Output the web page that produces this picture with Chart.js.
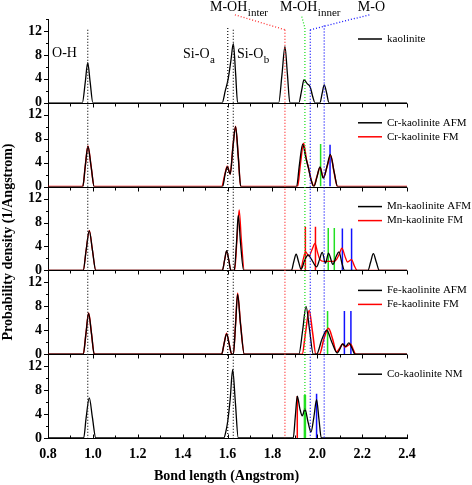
<!DOCTYPE html>
<html>
<head>
<meta charset="utf-8">
<script src="https://cdn.jsdelivr.net/npm/chart.js@4.4.0/dist/chart.umd.min.js"></script>
<style>
  html, body { margin: 0; padding: 0; background: #fff; }
</style>
</head>
<body>
<canvas id="chart" width="472" height="485"></canvas>
<script>
// axis ticks
const xTickValues = [0.8, 1.0, 1.2, 1.4, 1.6, 1.8, 2.0, 2.2, 2.4];
const yTickValues = [0, 4, 8, 12];

// bond length (Angstrom), probability density (1/Angstrom)
const kaolinite = [[0.8,0],[0.953,0],[0.966,3.4],[0.977,6.7],[0.988,3.4],[1.0,0],
  [1.576,0],[1.59,2.0],[1.603,4.0],[1.615,7.0],[1.626,9.9],[1.636,5.0],[1.645,0],
  [1.828,0],[1.843,4.8],[1.856,9.4],[1.867,4.8],[1.878,0],
  [1.918,0],[1.93,2.0],[1.941,3.85],[1.955,3.2],[1.969,2.6],[1.98,1.0],[1.99,0],
  [2.012,0],[2.022,1.6],[2.031,3.0],[2.042,1.6],[2.052,0],[2.4,0]];

const crAFM = [[0.8,0],[0.955,0],[0.966,3.4],[0.978,6.7],[0.992,3.4],[1.006,0],
  [1.578,0],[1.59,2.2],[1.599,3.3],[1.612,2.1],[1.624,6.5],[1.636,10.0],[1.648,5.0],[1.659,0],
  [1.908,0],[1.92,3.5],[1.935,7.1],[1.948,5.0],[1.96,3.2],[1.972,1.2],[1.985,0],[1.998,1.5],
  [2.012,3.3],[2.027,1.4],[2.045,3.6],[2.058,5.4],[2.075,2.5],[2.091,0],[2.4,0]];
const crFM = [[0.8,0],[0.955,0],[0.966,3.4],[0.978,6.8],[0.992,3.4],[1.006,0],
  [1.574,0],[1.588,2.0],[1.599,3.4],[1.612,2.1],[1.624,6.6],[1.636,10.1],[1.648,5.0],[1.659,0],
  [1.912,0],[1.925,3.8],[1.939,7.25],[1.952,4.5],[1.962,3.0],[1.975,0.8],[1.985,0.1],[1.998,1.6],
  [2.013,3.2],[2.027,1.5],[2.045,3.5],[2.06,5.2],[2.075,2.4],[2.09,0],[2.4,0]];

const mnAFM = [[0.8,0],[0.957,0],[0.97,3.4],[0.984,6.6],[0.998,3.4],[1.013,0],
  [1.577,0],[1.587,1.7],[1.596,3.3],[1.606,1.7],[1.615,0],[1.63,0],[1.64,4.5],[1.648,9.2],[1.658,4.6],[1.672,0],
  [1.885,0],[1.895,1.4],[1.906,2.7],[1.917,1.4],[1.928,0.2],[1.945,1.8],[1.96,2.6],[1.975,1.8],[1.997,0.6],
  [2.01,1.8],[2.022,3.0],[2.037,1.2],[2.05,2.9],[2.07,1.0],[2.085,2.4],[2.097,3.1],[2.11,1.2],[2.122,0],
  [2.226,0],[2.238,1.4],[2.25,2.8],[2.263,1.4],[2.277,0],[2.4,0]];
const mnFM = [[0.8,0],[0.957,0],[0.97,3.4],[0.984,6.7],[0.998,3.4],[1.013,0],
  [1.577,0],[1.587,1.7],[1.596,3.2],[1.606,1.7],[1.615,0],[1.632,0],[1.642,5.0],[1.652,10.1],[1.662,5.0],[1.675,0],
  [1.925,0],[1.937,1.8],[1.948,3.1],[1.963,2.4],[1.978,3.6],[1.99,4.5],[2.0,3.2],[2.012,1.8],[2.03,1.5],
  [2.06,1.5],[2.08,1.6],[2.097,2.6],[2.11,3.7],[2.125,2.2],[2.135,1.4],[2.153,1.8],[2.165,0.8],[2.178,0],[2.4,0]];

const feAFM = [[0.8,0],[0.957,0],[0.969,3.4],[0.981,6.8],[0.994,3.4],[1.006,0],
  [1.574,0],[1.585,1.8],[1.596,3.4],[1.607,1.8],[1.619,0],[1.626,0],[1.636,5.0],[1.645,10.0],[1.658,5.0],[1.675,0],
  [1.918,0],[1.935,4.0],[1.95,8.0],[1.966,4.0],[1.982,0],[1.997,0],[2.02,2.4],[2.042,4.0],[2.065,2.0],
  [2.089,0.2],[2.1,0.8],[2.113,1.7],[2.127,1.3],[2.141,1.9],[2.155,1.0],[2.168,0],[2.4,0]];
const feFM = [[0.8,0],[0.957,0],[0.969,3.4],[0.981,6.9],[0.994,3.4],[1.006,0],
  [1.574,0],[1.585,1.8],[1.596,3.5],[1.607,1.8],[1.619,0],[1.626,0],[1.636,5.1],[1.645,10.2],[1.658,5.1],[1.675,0],
  [1.933,0],[1.948,3.7],[1.964,7.3],[1.979,3.7],[1.994,0],[2.01,0],[2.03,2.6],[2.05,4.35],[2.068,2.6],
  [2.086,0.4],[2.1,1.0],[2.113,1.7],[2.125,1.2],[2.149,1.7],[2.16,0.8],[2.172,0],[2.4,0]];

const coNM = [[0.8,0],[0.959,0],[0.97,3.4],[0.984,6.7],[0.998,3.4],[1.013,0],
  [1.583,0],[1.595,1.5],[1.601,2.8],[1.612,6.5],[1.623,11.4],[1.635,6.0],[1.648,0],
  [1.893,0],[1.902,3.5],[1.911,7.0],[1.922,5.0],[1.933,3.7],[1.945,4.8],[1.96,2.5],[1.972,1.0],
  [1.985,3.5],[1.997,6.4],[2.008,3.0],[2.018,0],[2.4,0]];

// bond positions marked by sticks [x, height]
const crGreen = [[2.015, 7.1]];
const crBlue = [[2.057, 7.0]];
const mnRed = [[1.947, 7.3], [1.992, 7.3]];
const mnGreen = [[2.049, 7.1], [2.076, 7.1]];
const mnBlue = [[2.112, 7.0], [2.153, 7.0]];
const feGreen = [[2.046, 7.2]];
const feBlue = [[2.121, 7.2], [2.150, 7.2]];
const coRed = [[1.911, 7.0]];
const coGreen = [[1.945, 7.2]];
const coBlue = [[1.997, 7.4]];

// reference bond lengths (dotted guides): O-H, Si-Oa, Si-Ob, M-OHinter, M-OHinner, M-O, M-O
const refBonds = [0.977, 1.601, 1.626, 1.856, 1.945, 1.969, 2.031];

const FONT = "'Liberation Serif', 'Times New Roman', serif";
const panelIds = ['p1', 'p2', 'p3', 'p4', 'p5'];

function curve(label, pts, color, panel, width) {
  return {
    label: label, yAxisID: panel, legend: true,
    data: pts.map(p => ({x: p[0], y: p[1]})),
    borderColor: color, borderWidth: width || 1.3,
    pointRadius: 0, fill: false, cubicInterpolationMode: 'monotone'
  };
}
function sticks(pts, color, panel, width) {
  return {
    yAxisID: panel, legend: false,
    data: pts.flatMap(p => [{x: p[0], y: 0}, {x: p[0], y: p[1]}, {x: p[0], y: null}]),
    borderColor: color, borderWidth: width || 1.5,
    pointRadius: 0, fill: false, tension: 0, spanGaps: false
  };
}

const RED = '#ff0000', GREEN = '#22e022', BLUE = '#1010ff';

const datasets = [
  curve('kaolinite', kaolinite, '#000', 'p1'),
  curve('Cr-kaolinite AFM', crAFM, '#000', 'p2'),
  curve('Cr-kaolinite FM', crFM, RED, 'p2', 1.5),
  sticks(crGreen, GREEN, 'p2'), sticks(crBlue, BLUE, 'p2'),
  curve('Mn-kaolinite AFM', mnAFM, '#000', 'p3'),
  curve('Mn-kaolinite FM', mnFM, RED, 'p3', 1.3),
  sticks(mnRed, RED, 'p3'), sticks(mnGreen, GREEN, 'p3'), sticks(mnBlue, BLUE, 'p3'),
  curve('Fe-kaolinite AFM', feAFM, '#000', 'p4'),
  curve('Fe-kaolinite FM', feFM, RED, 'p4', 1.5),
  sticks(feGreen, GREEN, 'p4'), sticks(feBlue, BLUE, 'p4'),
  curve('Co-kaolinite NM', coNM, '#000', 'p5'),
  sticks(coRed, RED, 'p5'), sticks(coGreen, GREEN, 'p5', 2.5), sticks(coBlue, BLUE, 'p5')
];

function panelAxis() {
  return {
    type: 'linear', position: 'left', stack: 'panels', stackWeight: 1, offset: false,
    min: 0, max: 14,
    afterBuildTicks: s => { s.ticks = yTickValues.map(v => ({value: v})); },
    afterFit: s => { s.width = 48; },
    ticks: { color: '#000', padding: 6, autoSkip: false, font: { family: FONT, size: 14, weight: 'bold' } },
    grid: { display: false, drawTicks: false },
    border: { display: true, color: '#000', width: 1 }
  };
}

// guide line styles, same order as refBonds
const refColors = ['#222', '#222', '#222', '#ff3030', GREEN, BLUE, BLUE];
const refTops = [12.2, 12.5, 12.2, 12.2, 12.5, 12.2, 12.9];

const decor = {
  id: 'decor',
  afterDatasetsDraw(chart) {
    const {ctx, chartArea: a, scales} = chart;
    const xs = scales.x;
    const top = scales.p1;
    const px = v => xs.getPixelForValue(v);
    ctx.save();

    // panel base lines and ticks
    ctx.strokeStyle = '#000';
    ctx.lineWidth = 1;
    const minorX = xTickValues.slice(1).map((v, i) => (v + xTickValues[i]) / 2);
    panelIds.forEach((id, i) => {
      const s = scales[id];
      const y0 = Math.round(s.getPixelForValue(0)) + 0.5;
      ctx.beginPath(); ctx.moveTo(a.left, y0); ctx.lineTo(a.right, y0); ctx.stroke();
      ctx.beginPath();
      if (i > 0) {
        const yt = Math.round(s.top) + 0.5;
        xTickValues.forEach(v => { ctx.moveTo(Math.round(px(v)) + 0.5, yt); ctx.lineTo(Math.round(px(v)) + 0.5, yt + 4); });
        minorX.forEach(v => { ctx.moveTo(Math.round(px(v)) + 0.5, yt); ctx.lineTo(Math.round(px(v)) + 0.5, yt + 3); });
      }
      if (i === panelIds.length - 1) {
        xTickValues.forEach(v => { ctx.moveTo(Math.round(px(v)) + 0.5, y0); ctx.lineTo(Math.round(px(v)) + 0.5, y0 - 4); });
        minorX.forEach(v => { ctx.moveTo(Math.round(px(v)) + 0.5, y0); ctx.lineTo(Math.round(px(v)) + 0.5, y0 - 3); });
      }
      yTickValues.forEach(v => {
        const y = Math.round(s.getPixelForValue(v)) + 0.5;
        ctx.moveTo(a.left - 4, y); ctx.lineTo(a.left, y);
        const ym = Math.round(s.getPixelForValue(v + 2)) + 0.5;
        ctx.moveTo(a.left - 2, ym); ctx.lineTo(a.left, ym);
      });
      ctx.stroke();

      // legend
      const items = chart.data.datasets.filter(d => d.yAxisID === id && d.legend);
      items.forEach((d, k) => {
        const y = s.top + 20 + k * 14;
        ctx.strokeStyle = d.borderColor;
        ctx.lineWidth = 1.5;
        ctx.beginPath(); ctx.moveTo(a.right - 49, y); ctx.lineTo(a.right - 25, y); ctx.stroke();
        ctx.fillStyle = '#000';
        ctx.font = '11px ' + FONT;
        ctx.textBaseline = 'middle';
        ctx.textAlign = 'left';
        ctx.fillText(d.label, a.right - 20, y);
      });
      ctx.strokeStyle = '#000';
      ctx.lineWidth = 1;
    });

    // dotted guides
    ctx.setLineDash([1, 2]);
    ctx.lineWidth = 1.3;
    refBonds.forEach((b, i) => {
      ctx.strokeStyle = refColors[i];
      ctx.beginPath();
      ctx.moveTo(px(b), top.getPixelForValue(refTops[i]));
      ctx.lineTo(px(b), a.bottom);
      ctx.stroke();
    });
    // connectors to labels
    const link = (c, x1, y1, x2, y2) => {
      ctx.strokeStyle = c;
      ctx.beginPath();
      ctx.moveTo(px(x1), top.getPixelForValue(y1));
      ctx.lineTo(px(x2), top.getPixelForValue(y2));
      ctx.stroke();
    };
    link('#ff3030', 1.633, 14.7, 1.856, 12.2);
    link(GREEN, 1.931, 14.4, 1.945, 12.5);
    link(BLUE, 2.232, 14.7, 1.969, 12.2);
    ctx.setLineDash([]);

    // bond labels
    ctx.fillStyle = '#000';
    ctx.textAlign = 'left';
    ctx.textBaseline = 'alphabetic';
    const label = (main, sub, xv, yv) => {
      const x = px(xv), y = top.getPixelForValue(yv);
      ctx.font = '14px ' + FONT;
      ctx.fillText(main, x, y);
      if (sub) {
        const w = ctx.measureText(main).width;
        ctx.font = '11px ' + FONT;
        ctx.fillText(sub, x + w + 0.5, y + 5);
      }
    };
    label('O-H', null, 0.818, 7.7);
    label('Si-O', 'a', 1.402, 7.5);
    label('Si-O', 'b', 1.642, 7.5);
    label('M-OH', 'inter', 1.522, 15.4);
    label('M-OH', 'inner', 1.834, 15.4);
    label('M-O', null, 2.181, 15.4);

    // axis titles
    ctx.font = 'bold 14px ' + FONT;
    ctx.textAlign = 'center';
    ctx.textBaseline = 'middle';
    ctx.fillText('Bond length (Angstrom)', (a.left + a.right) / 2 - 1, 476);
    ctx.translate(8, 242);
    ctx.rotate(-Math.PI / 2);
    ctx.fillText('Probability density (1/Angstrom)', 0, 0);
    ctx.restore();
  }
};

const scales = {
  x: {
    type: 'linear', position: 'bottom', min: 0.8, max: 2.4,
    afterBuildTicks: s => { s.ticks = xTickValues.map(v => ({value: v})); },
    afterFit: s => { s.height = 47; },
    ticks: { color: '#000', padding: 8, autoSkip: false, maxRotation: 0,
      callback: v => Number(v).toFixed(1),
      font: { family: FONT, size: 14, weight: 'bold' } },
    grid: { display: false, drawTicks: false },
    border: { display: true, color: '#000', width: 1 }
  }
};
['p5', 'p4', 'p3', 'p2', 'p1'].forEach(id => { scales[id] = panelAxis(); });

new Chart(document.getElementById('chart'), {
  type: 'line',
  data: { datasets: datasets },
  options: {
    responsive: false,
    animation: false,
    parsing: true,
    layout: { padding: { top: 19, right: 65, left: 0, bottom: 0 } },
    plugins: { legend: { display: false }, tooltip: { enabled: false } },
    scales: scales
  },
  plugins: [decor]
});
</script>
</body>
</html>
